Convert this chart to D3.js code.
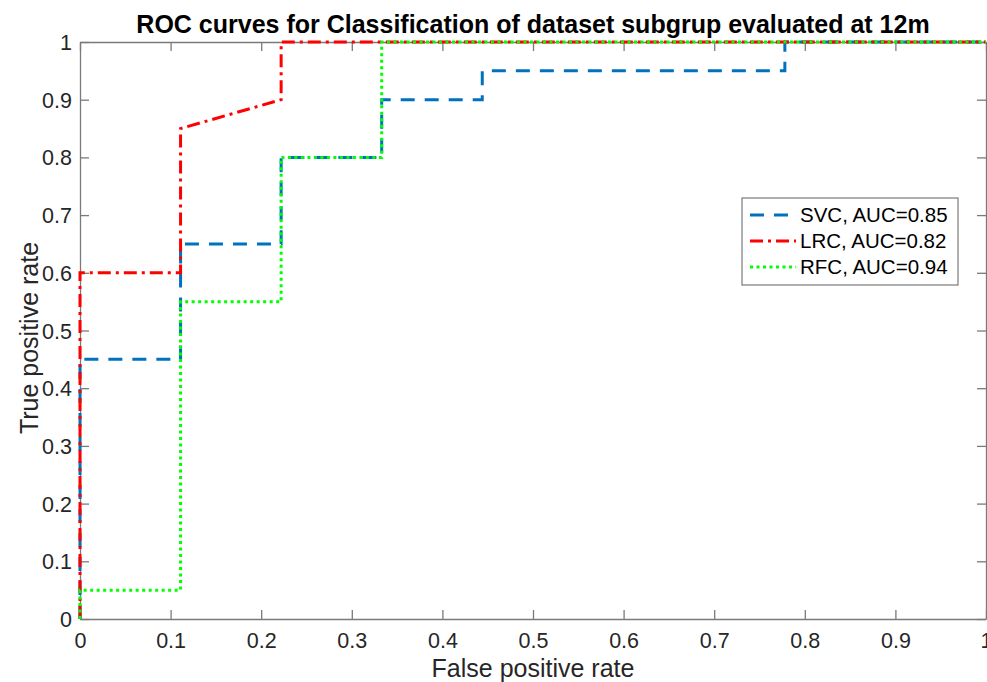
<!DOCTYPE html>
<html>
<head>
<meta charset="utf-8">
<script src="https://cdn.jsdelivr.net/npm/d3@7"></script>
<style>
  body { margin: 0; background: #fff; }
  text { font-family: "Liberation Sans", Arial, sans-serif; }
</style>
</head>
<body>
<div id="chart"></div>
<script>
// ROC points
const svcFpr = [0, 0, 0.111, 0.111, 0.222, 0.222, 0.333, 0.333, 0.444, 0.444, 0.778, 0.778, 1]
const svcTpr = [0, 0.45, 0.45, 0.65, 0.65, 0.8, 0.8, 0.9, 0.9, 0.95, 0.95, 1, 1]
const lrcFpr = [0, 0, 0.111, 0.111, 0.222, 0.222, 1]
const lrcTpr = [0, 0.6, 0.6, 0.85, 0.9, 1, 1]
const rfcFpr = [0, 0, 0.111, 0.111, 0.222, 0.222, 0.333, 0.333, 1]
const rfcTpr = [0, 0.05, 0.05, 0.55, 0.55, 0.8, 0.8, 1, 1]
const seriesNames = ["SVC, AUC=0.85", "LRC, AUC=0.82", "RFC, AUC=0.94"]
const ticks = [0, 0.1, 0.2, 0.3, 0.4, 0.5, 0.6, 0.7, 0.8, 0.9, 1]

const width = 987, height = 682
const margin = {top: 42, right: 1, bottom: 63, left: 80}

const svg = d3.select("#chart").append("svg")
  .attr("width", width).attr("height", height)

const x = d3.scaleLinear().domain([0, 1]).range([margin.left, width - margin.right])
const y = d3.scaleLinear().domain([0, 1]).range([height - margin.bottom, margin.top])

const axisColor = "#7a7a7a"
const fmt = d => d === 0 || d === 1 ? d3.format("d")(d) : d3.format(".1f")(d)

// bottom + left axes with labels, top + right with inner ticks only
const xAxis = svg.append("g").attr("transform", `translate(0,${y(0)})`)
  .call(d3.axisBottom(x).tickValues(ticks).tickFormat(fmt).tickSizeInner(-9).tickSizeOuter(0).tickPadding(14))
const yAxis = svg.append("g").attr("transform", `translate(${x(0)},0)`)
  .call(d3.axisLeft(y).tickValues(ticks).tickFormat(fmt).tickSizeInner(-9).tickSizeOuter(0).tickPadding(8))
const xTop = svg.append("g").attr("transform", `translate(0,${y(1)})`)
  .call(d3.axisTop(x).tickValues(ticks).tickFormat("").tickSizeInner(-9).tickSizeOuter(0))
const yRight = svg.append("g").attr("transform", `translate(${x(1)},0)`)
  .call(d3.axisRight(y).tickValues(ticks).tickFormat("").tickSizeInner(-9).tickSizeOuter(0))

for (const a of [xAxis, yAxis, xTop, yRight]) {
  a.selectAll("path, line").attr("stroke", axisColor).attr("stroke-width", 1.3)
  a.selectAll("text").attr("fill", "#262626").style("font-size", "21.5px")
    .style("font-family", "'Liberation Sans', Arial, sans-serif")
}
yAxis.selectAll("text").attr("dy", "0.35em")

const line = d3.line().x(d => x(d[0])).y(d => y(d[1]))

const curves = [
  {fpr: svcFpr, tpr: svcTpr, color: "#0072BD", dash: "14,10"},
  {fpr: lrcFpr, tpr: lrcTpr, color: "#FF0000", dash: "13,5,3,5"},
  {fpr: rfcFpr, tpr: rfcTpr, color: "#00FF00", dash: "3,3.5"}
]

curves.forEach(c => {
  svg.append("path")
    .datum(c.fpr.map((f, i) => [f, c.tpr[i]]))
    .attr("d", line)
    .attr("fill", "none")
    .attr("stroke", c.color)
    .attr("stroke-width", 3)
    .attr("stroke-dasharray", c.dash)
})

// title + axis labels
svg.append("text").attr("x", 533).attr("y", 33)
  .attr("text-anchor", "middle").style("font-size", "25px").style("font-weight", "bold")
  .attr("fill", "#000").text("ROC curves for Classification of dataset subgrup evaluated at 12m")
svg.append("text").attr("x", 533).attr("y", 677)
  .attr("text-anchor", "middle").style("font-size", "25px").attr("fill", "#262626")
  .text("False positive rate")
svg.append("text").attr("transform", `translate(38,338) rotate(-90)`)
  .attr("text-anchor", "middle").style("font-size", "25px").attr("fill", "#262626")
  .text("True positive rate")

// legend
const lg = svg.append("g").attr("transform", "translate(742,198)")
lg.append("rect").attr("width", 216).attr("height", 87)
  .attr("fill", "#fff").attr("stroke", axisColor).attr("stroke-width", 1.2)
seriesNames.forEach((name, i) => {
  const ly = 17 + i * 26
  lg.append("line").attr("x1", 8).attr("x2", 54).attr("y1", ly).attr("y2", ly)
    .attr("stroke", curves[i].color).attr("stroke-width", 3)
    .attr("stroke-dasharray", curves[i].dash)
  lg.append("text").attr("x", 58).attr("y", ly).attr("dy", "0.35em")
    .style("font-size", "20.5px").attr("fill", "#000").text(name)
})
</script>
</body>
</html>
